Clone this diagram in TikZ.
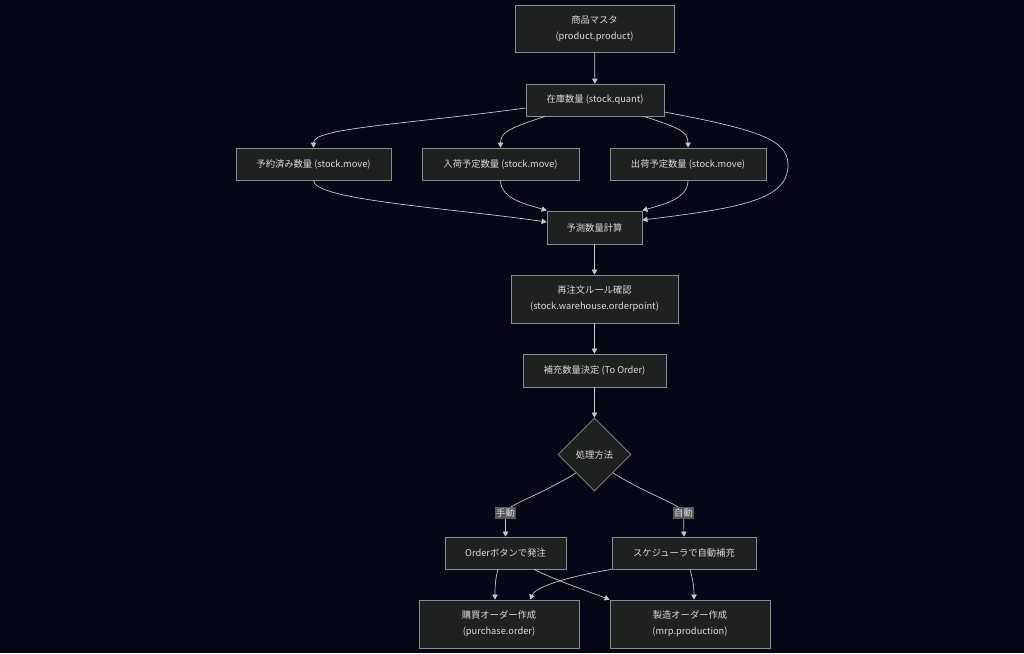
\documentclass[tikz,border=0pt]{standalone}
\usepackage{fontspec}
\setmainfont{Noto Sans CJK JP}
\usetikzlibrary{shapes.geometric,arrows.meta}
\definecolor{bgc}{RGB}{3,7,22}
\definecolor{boxfill}{RGB}{31,32,32}
\definecolor{boxline}{RGB}{140,140,140}
\definecolor{txt}{RGB}{220,220,220}
\definecolor{edgec}{RGB}{200,200,200}
\definecolor{lblbg}{RGB}{88,88,88}
\tikzset{
  box/.style={draw=boxline, fill=boxfill, line width=0.8pt, text=txt, align=center,
    inner sep=0pt, font=\fontsize{9.3}{16}\selectfont},
  dia/.style={diamond, draw=boxline, fill=boxfill, line width=0.8pt, text=txt,
    minimum width=73pt, minimum height=73pt, inner sep=0pt, font=\fontsize{9.3}{16}\selectfont},
  lbl/.style={fill=lblbg, text=txt, inner sep=1.5pt, font=\fontsize{9.3}{11}\selectfont},
  conn/.style={draw=edgec, line width=0.7pt, -{Triangle[length=5pt,width=5.5pt]}},
  connn/.style={draw=edgec, line width=0.7pt}
}
\begin{document}
\begin{tikzpicture}[x=1pt,y=-1pt]
\fill[bgc] (0,0) rectangle (1024,653);
\useasboundingbox (0,0) rectangle (1024,653);

\node[box, minimum width=159pt, minimum height=47pt] (p) at (594.5,28.5) {商品マスタ\\(product.product)};
\node[box, minimum width=138pt, minimum height=32pt] (q) at (595,100) {在庫数量 (stock.quant)};
\node[box, minimum width=155pt, minimum height=32pt] (r) at (313.5,164) {予約済み数量 (stock.move)};
\node[box, minimum width=157pt, minimum height=32pt] (i) at (500.5,164) {入荷予定数量 (stock.move)};
\node[box, minimum width=156pt, minimum height=32pt] (o) at (688,164) {出荷予定数量 (stock.move)};
\node[box, minimum width=95pt, minimum height=33pt] (f) at (594.5,227.5) {予測数量計算};
\node[box, minimum width=167pt, minimum height=48pt] (ro) at (594.5,299) {再注文ルール確認\\(stock.warehouse.orderpoint)};
\node[box, minimum width=143pt, minimum height=33pt] (tq) at (594.5,370.5) {補充数量決定 (To Order)};
\node[dia] (d) at (594.5,454.5) {処理方法};
\node[box, minimum width=121pt, minimum height=32pt] (m) at (505.5,553) {Orderボタンで発注};
\node[box, minimum width=144pt, minimum height=32pt] (s) at (684,553) {スケジューラで自動補充};
\node[box, minimum width=160pt, minimum height=48pt] (po) at (499,624) {購買オーダー作成\\(purchase.order)};
\node[box, minimum width=160pt, minimum height=48pt] (mo) at (690,624) {製造オーダー作成\\(mrp.production)};

\coordinate (c1) at (505.5,513);
\coordinate (c2) at (683.5,513);

% top
\draw[conn] (p) -- (q);
\draw[conn] ([yshift=-8pt]q.west) .. controls (400,125) and (313.5,128) .. (r.north);
\draw[conn] ([xshift=-50pt]q.south) .. controls (510,128) and (500.5,132) .. (i.north);
\draw[conn] ([xshift=49pt]q.south) .. controls (680,128) and (688,132) .. (o.north);
\draw[conn] ([yshift=-12pt]q.east) .. controls (760,130) and (788,140) .. (788,165)
   .. controls (788,200) and (740,208) .. ([yshift=7.5pt]f.east);
\draw[conn] (r.south) .. controls (313.5,200) and (450,208) .. ([yshift=5.5pt]f.west);
\draw[conn] (i.south) .. controls (500.5,200) and (530,205) .. (f.north west);
\draw[conn] (o.south) .. controls (688,200) and (660,205) .. (f.north east);

% middle
\draw[conn] (f) -- (ro);
\draw[conn] (ro) -- (tq);
\draw[conn] (tq) -- (d);

% decision
\draw[connn] (d.south west) .. controls (535,498) and (508,504) .. (c1);
\draw[conn] (c1) -- (m.north);
\draw[connn] (d.south east) .. controls (654,498) and (681,504) .. (c2);
\draw[conn] (c2) -- (s.north);
\node[lbl] (l1) at (c1) {手動};
\node[lbl] (l2) at (c2) {自動};

% bottom
\draw[conn] ([xshift=-7.5pt]m.south) .. controls (495,580) and (495,588) .. ([xshift=-4pt]po.north);
\draw[conn] ([xshift=28.5pt]m.south) .. controls (560,582) and (590,592) .. (mo.north west);
\draw[conn] (s.south west) .. controls (560,578) and (535,588) .. ([xshift=31pt]po.north);
\draw[conn] ([xshift=6pt]s.south) .. controls (693,580) and (694,588) .. ([xshift=4pt]mo.north);
\end{tikzpicture}
\end{document}
